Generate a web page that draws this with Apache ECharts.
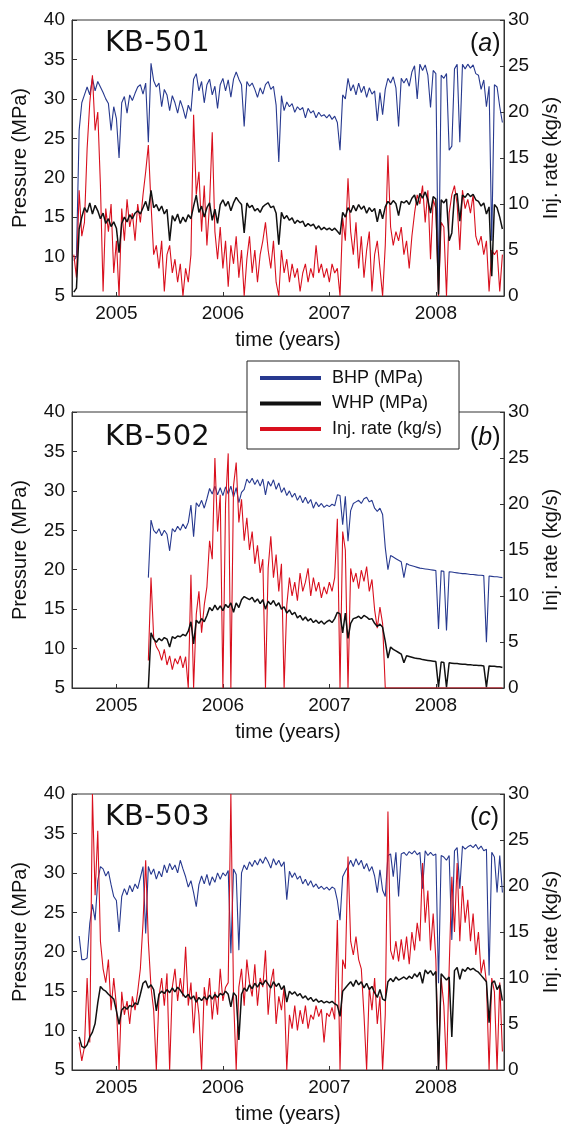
<!DOCTYPE html>
<html><head><meta charset="utf-8">
<script src="https://cdn.jsdelivr.net/npm/echarts@6/dist/echarts.min.js"></script>
<style>html,body{margin:0;padding:0;background:#fff}#c{width:569px;height:1128px}</style>
</head><body><div id="c"></div><script>
// ---- time grids (year of first sample, sample spacing in years) ----
const tStep = 0.025;
const tStartA = 2004.600;
const tStartB = 2005.300;
const tStartC = 2004.650;
const yearTicks = [2005, 2006, 2007, 2008];
const seriesNames = ['BHP (MPa)', 'WHP (MPa)', 'Inj. rate (kg/s)'];
const panelTitles = ['KB-501', 'KB-502', 'KB-503'];
const panelTags = ['a', 'b', 'c'];

// ---- KB-501 ----
const bhpA = [9.5,10,26,29.5,30.5,31.5,30.5,32.6,31,32.2,
31.5,30.8,30,29.4,26,29,27.5,22.5,29.5,30.3,
28.2,30.5,29.8,30.7,31.5,31.8,30.6,32,24.5,34.5,
32.3,31.5,32,29,31.2,30.5,28.5,30.4,29.5,28.2,
29.8,28.8,27.5,29.2,28.4,32.5,33.2,31,32.2,29.5,
31.8,32.5,30.5,31.6,28.8,31.8,32.6,31,32.4,30.2,
32.5,33.4,32.5,31.8,26.5,32.2,31.6,32,31.2,30.2,
31.4,30.6,31.8,32.2,31.2,31.6,29.2,22,30.4,28.5,
29.6,29,29.4,28.3,29,28.6,28.9,27.6,28.8,28.2,
28.5,27.6,28.3,27.8,28,27.6,28,27.4,27.8,27,
23.5,30.5,30,32.6,31,31.8,30.5,32,30.8,31.6,
30.2,31.4,30.6,31,27.2,30.8,28,31.2,32.6,32,
32.8,31.4,26.5,32.6,32,32.6,31.6,33.4,34.2,30,
34.4,33.6,34.3,33,28.9,33.6,33.2,5.5,33,32.6,
33.2,23.5,24,33.8,34.4,24.5,34.4,33.8,34.4,33.9,
34.3,33.2,33,31.2,32.4,29,31.6,12,31.8,31.5,
29,27];
const whpA = [5.5,6,13.5,15,16.2,15.6,16.8,15.4,16.5,15.8,
14.8,15.5,14.2,14.8,13.8,14.4,13.6,10.5,14.2,15,
14.4,15.3,14.8,15.5,15.8,15.4,16.2,17,15.8,18.4,
16.2,16.6,15.8,16.4,15.4,16,12,15.2,14.5,15.4,
14.2,15,14.4,15.3,14.8,16.4,17.8,15.6,16.4,15,
16.2,16.8,14.6,16,14.2,16.6,17.2,16.4,17,15.8,
16.8,17.5,17,16.6,13,16.8,16.2,16.5,15.8,16.1,
15.6,16.3,16.6,16.8,16.2,16.4,15.5,11.5,15.6,14.8,
15.2,14.6,14.9,14.2,14.6,14.3,14.5,13.8,14.2,13.9,
14.1,13.5,13.9,13.4,13.7,13.4,13.6,13.3,13.6,13.2,
12.8,15.6,15,16.2,15.6,16.5,15.8,16.6,16,16.4,
15.5,16.2,15.7,16.1,14.4,16,14.8,16.3,17,16.6,
17.1,16.7,15.2,17,16.8,17.1,16.6,17.4,17.8,16.5,
18,17.4,18.2,17.2,15.5,17.6,17.3,5.2,17.2,16.8,
17.3,12,13,17.8,18,14.5,17.8,17.5,18,17.6,
17.9,17.2,17,16.4,16.8,15.4,16.3,7.5,16.6,16.2,
15,13.5];
const rateA = [4.5,2,11.5,6.5,8,16,21,24,18,20,
12,0.5,9.5,7,10,2.5,6,0,9.5,6,
10.5,7.5,9,6,10,8,11,13.5,16.4,10,
4.5,5.5,3,6,0.5,4.5,5.5,2.5,4,1.5,
3.5,0,3,1.5,4.5,19.7,11,13.5,7,12,
5.5,10,17.8,7,4,7.5,3,6,1,5.5,
3.5,6.5,2,5,0,4,6.5,2.5,5,1.5,
4.5,6,8,5,3,6,1.5,0,5,2.5,
4,1.5,3.5,2,3,0.5,2.5,3.5,1.5,3,
2,5.5,2.5,3.5,2,3,1.5,3.5,2.5,3,
0,8.5,6,12.8,7,4.5,8,3,6.5,2,
5,7,0.5,4.5,6,3,0,5.5,15.3,7.5,
5.5,7,6,7.5,4.5,6,3,6.5,9,11,
10,12,8,11.5,4,10.5,9.5,0,8,7.5,
0,9,11,12,10,5,11.5,9.5,10.5,9,
11,6.5,5.5,6.5,4.5,6,0.5,5,4.5,5,
0.5,4.5];

// ---- KB-502 ----
const bhpB = [19,26.3,25,24.6,25.2,24.3,25,24.5,22.4,25.2,
24.8,25.5,25,25.8,25.2,26,28.2,24.2,28.5,28,
28.8,27.8,29,30.3,29.6,30.6,29.5,30.4,29.4,30.5,
29.6,30.6,29.2,30.4,28.5,29.8,30.2,31.5,31,31.6,
30.8,31.4,30.6,31.5,29.5,31.2,30.6,31.4,30.2,31,
29.8,30.4,29.4,30,29.2,29.7,28.8,29.4,28.5,29.2,
28.4,28.9,27.8,28.6,28,28.4,27.9,28.2,28,28.3,
28.1,29.5,29.4,25.7,29.3,23.6,27.5,28.4,28.6,28.8,
28.4,29,29.2,28.6,28.8,27.8,27.4,27.8,27,22.8,
20,21.8,21.6,21.4,21.2,21,19,20.8,20.6,20.5,
20.4,20.3,20.2,20.15,20.1,20.05,20,19.95,19.9,12.5,
19.85,19.8,12.3,19.75,19.7,19.65,19.6,19.55,19.5,19.5,
19.45,19.4,19.4,19.35,19.3,19.3,19.25,10.8,19.2,19.15,
19.1,19.1,19.05,19];
const whpB = [5,12,11.2,10.8,11.3,11,11.4,11.2,10.2,11.5,
11.3,11.6,11.5,11.8,11.6,12.2,13.4,10.6,13.6,13.2,
13.8,13.4,14.2,15.2,14.8,15.5,14.9,15.4,14.8,15.6,
15.2,15.8,14.6,15.8,15.2,16.2,16.6,16.4,16.2,16.5,
15.9,16.3,15.7,16.2,15,16,15.6,16.1,15.4,15.8,
15,15.3,14.5,14.9,14.3,14.6,13.9,14.2,13.6,14,
13.5,13.8,13.3,13.6,13.2,13.5,13.1,13.4,13.6,13.3,
13.8,14.6,14.4,12,14.5,11.3,13.2,13.8,13.9,14.1,
13.8,14.2,14,13.7,13.8,13.2,12.8,13.1,12.7,10.9,
8.8,10.2,9.9,9.7,9.5,9.3,8.2,9.1,9,8.9,
8.8,8.75,8.7,8.6,8.55,8.5,8.45,8.4,8.35,5.1,
8.3,8.25,5.1,8.2,8.15,8.1,8.1,8.05,8,8,
7.95,7.95,7.9,7.9,7.85,7.85,7.8,5.1,7.8,7.75,
7.75,7.7,7.7,7.6];
const rateB = [3,12,5.5,4.5,4,3,4.2,2.5,3.5,2,
3.2,2.6,3.5,2.2,3.4,0,12.3,0,8,10.5,
6,9,11,16,14,25,17,21,0,20,
25.5,0,22,24.5,18,20.5,16,18.5,15,17,
13.5,15.5,12.5,14,0,13,16.5,12,14.5,10.5,
13.5,0,9,12,10,11.5,9.5,12.5,10.5,11.5,
13,10,12,10.5,11.5,9.8,11,10.2,11.5,10.5,
12,18.4,0,17,15,0,13,11.5,12.5,10.8,
12.8,11.6,13.2,10.5,11.8,8.5,6.5,8.8,7,0,
0,0,0,0,0,0,0,0,0,0,
0,0,0,0,0,0,0,0,0,0,
0,0,0,0,0,0,0,0,0,0,
0,0,0,0,0,0,0,0,0,0,
0,0,0,0];

// ---- KB-503 ----
const bhpC = [22,19,19,19.2,23.6,26,24,29,30.8,30.5,
29.6,30.2,28.5,27,26.5,22.5,27,28,27.2,28.4,
27.6,28.6,28,29.4,30.8,22.3,30.8,29.8,30.5,29.2,
30.2,29.5,31,30,31.2,30.4,31,30,31.6,30.5,
29.5,28.2,29,27.5,25.7,28.5,29.6,28.6,29.8,28.4,
29.5,28.8,30,29.2,30,29.6,30.3,19.8,30.5,29.8,
20.2,30,31,30.4,31.4,30.8,31.6,31,31.8,31.2,
32,31.4,30.6,31.8,31,31.6,30.8,31.4,26.6,30.2,
29.4,30,29.2,29.6,28.6,29.2,28.4,29,28.2,28.6,
28,28.3,27.9,28.2,27.8,28.2,28,26.5,24,29.5,
30.2,30.8,31.6,30.8,31.8,31,31.6,30.5,31.2,30.2,
30.8,29.6,27.5,30.4,27.8,27,32.2,32.4,29.5,32.6,
27,32.4,32.6,32.2,32.7,32.4,32.8,32.3,32.6,28,
32.8,32.2,32.6,32.2,32.4,16,32.2,32,31.6,32.2,
21.5,32.8,33.2,28,33.4,33,33.3,33.5,33.2,33.6,
33,33.4,32.8,33,17,32.6,32,27.5,32.2,27.5];
const whpC = [9.2,8,7.8,8.2,9.2,9.8,10.9,13.5,15.6,15.2,
15,14.6,14.3,14,12.5,10.8,12.6,13,12.7,13.2,
13,13.5,13.3,14.6,16,16.3,15.4,15.8,15.2,12.5,
14.6,15,14.7,15.2,14.8,15.4,14.9,15.5,15.1,14.6,
14.2,14.6,14,14.4,13.6,14.2,13.8,14.3,13.9,14.5,
14,14.6,14.2,14.7,14.5,15,14.6,13,14.8,14.4,
8.8,14.6,15.4,15,15.8,15.3,16,15.5,16.1,15.8,
16.4,15.9,15.4,16.2,15.6,16,15.2,15.7,13.6,15,
14.6,14.9,14.4,14.7,14.1,14.4,13.9,14.2,13.7,14,
13.6,13.8,13.5,13.7,13.5,13.7,13.4,13.2,11.8,15,
15.4,15.8,16.2,15.6,16.4,15.8,16.2,15.4,16,15.2,
15.6,14.8,14.2,15.2,14,13.8,16.2,16.6,16.2,16.8,
16.4,16.6,16.8,16.5,16.9,16.6,17.2,16.8,17.4,16,
17.7,17.2,17.6,17,17.5,5,17.2,16.8,16.4,16.8,
9.2,17.6,18,16.5,17.8,17.5,18,17.7,17.9,17.6,
17.4,17,16.6,16.2,11,16,16.3,15.2,15.8,13.8];
const rateC = [3,1,2.5,10,3,30,19,26,14,11,
9.5,12,6.5,10,7,0,8.5,6,7.5,5,
8,6.5,8.5,11,16,22.8,14,9,6.5,0,
8,10,7,10.5,0,9,11,7.5,10,8,
13.4,7,9.5,4,8.5,6,0,9,7,10,
5.5,8.5,6,11,7.5,9,9.5,30,8,0,
9,11,7,12,9.5,8,11.5,7,10,9,
13,6,9.5,11,5,8,6.5,9,0,6,
4.5,7,4.3,6.5,5,7,4.5,6,5.5,7,
5.8,6.6,3,6.2,5.8,6.8,5.5,16.3,0,12,
11,23.2,14,12.5,14.5,12,11,6,0,9,
6.5,10,5,8,0,6,28.1,13,12,14,
11.8,14.2,12,14.5,11.5,15,13,16,14,22.5,
16,19.5,13,17,12,0,10,7,0,11,
21,15,22.5,14,20,16,18.5,14,17,12.5,
15,10.5,12,9.5,0,10,8.5,0,9.5,2];

const panels = [
  {start: tStartA, bhp: bhpA, whp: whpA, rate: rateA},
  {start: tStartB, bhp: bhpB, whp: whpB, rate: rateB},
  {start: tStartC, bhp: bhpC, whp: whpC, rate: rateC}
];

// ---- styling ----
const FONT = 'Liberation Sans';
const BLUE = '#27398f', BLACK = '#111111', RED = '#d9101e', AX = '#333';
const gridTops = [20, 412, 794];
const titleY = [43, 437, 817];

function pairs(start, vals) {
  return vals.map((v, i) => [+(start + i * tStep).toFixed(3), v]);
}

const grid = [], xAxis = [], yAxis = [], series = [], graphic = [];
gridTops.forEach((top, p) => {
  grid.push({left: 72, top: top, width: 438, height: 276, show: true,
    borderColor: AX, borderWidth: 1, backgroundColor: 'transparent'});
  xAxis.push({gridIndex: p, type: 'value', min: 2004.583, max: 2008.64,
    axisLine: {show: true, onZero: false, lineStyle: {color: AX, width: 1}},
    axisTick: {show: true, inside: true, length: 4, customValues: yearTicks, lineStyle: {color: AX}},
    axisLabel: {customValues: yearTicks, margin: 8, fontSize: 19, color: '#111', fontFamily: FONT,
      formatter: v => String(Math.round(v))},
    splitLine: {show: false},
    name: 'time (years)', nameLocation: 'middle', nameGap: 34,
    nameTextStyle: {fontSize: 20, color: '#111', fontFamily: FONT}});
  yAxis.push({gridIndex: p, type: 'value', position: 'left', min: 5, max: 40, interval: 5,
    axisLine: {show: true, lineStyle: {color: AX, width: 1}},
    axisTick: {show: true, inside: true, length: 5, lineStyle: {color: AX}},
    axisLabel: {margin: 7, fontSize: 19, color: '#111', fontFamily: FONT},
    splitLine: {show: false},
    name: 'Pressure (MPa)', nameLocation: 'middle', nameRotate: 90, nameGap: 42,
    nameTextStyle: {fontSize: 20, color: '#111', fontFamily: FONT}});
  yAxis.push({gridIndex: p, type: 'value', position: 'right', min: 0, max: 30, interval: 5,
    axisLine: {show: true, lineStyle: {color: AX, width: 1}},
    axisTick: {show: true, inside: true, length: 4, lineStyle: {color: AX}},
    axisLabel: {margin: 4, fontSize: 19, color: '#111', fontFamily: FONT},
    splitLine: {show: false},
    name: 'Inj. rate (kg/s)', nameLocation: 'middle', nameRotate: 90, nameGap: 37,
    nameTextStyle: {fontSize: 20, color: '#111', fontFamily: FONT}});
  const d = panels[p];
  const common = {type: 'line', xAxisIndex: p, showSymbol: false, symbol: 'none', animation: false, clip: true};
  series.push(Object.assign({}, common, {name: seriesNames[0], yAxisIndex: 2 * p,
    data: pairs(d.start, d.bhp), color: BLUE, lineStyle: {width: 1.1, color: BLUE}}));
  series.push(Object.assign({}, common, {name: seriesNames[2], yAxisIndex: 2 * p + 1,
    data: pairs(d.start, d.rate), color: RED, lineStyle: {width: 1.1, color: RED}}));
  series.push(Object.assign({}, common, {name: seriesNames[1], yAxisIndex: 2 * p,
    data: pairs(d.start, d.whp), color: BLACK, lineStyle: {width: 1.5, color: BLACK}}));
  graphic.push({type: 'text', x: 105, y: titleY[p], z: 10,
    style: {text: panelTitles[p], font: '29px "DejaVu Sans"', fill: '#111', verticalAlign: 'middle'}});
  graphic.push({type: 'text', x: 470, y: titleY[p] + 1, z: 10,
    style: {text: '{p|(}{i|' + panelTags[p] + '}{p|)}', verticalAlign: 'middle', fill: '#111',
      rich: {p: {fontSize: 25, fontFamily: FONT, fill: '#111'},
             i: {fontSize: 25, fontFamily: FONT, fontStyle: 'italic', fill: '#111'}}}});
});

const chart = echarts.init(document.getElementById('c'), null, {renderer: 'canvas'});
chart.setOption({
  animation: false,
  backgroundColor: '#fff',
  grid, xAxis, yAxis, series, graphic,
  legend: {show: true, data: seriesNames, orient: 'vertical', left: 247, top: 361,
    backgroundColor: '#fff', borderColor: '#222', borderWidth: 1, padding: [7, 17, 10, 13],
    itemWidth: 61, itemHeight: 4, itemGap: 5.5, icon: 'rect', selectedMode: false, z: 20,
    textStyle: {fontSize: 18, color: '#111', fontFamily: FONT, lineHeight: 20, padding: [0, 0, 0, 6]}}
});
</script></body></html>
